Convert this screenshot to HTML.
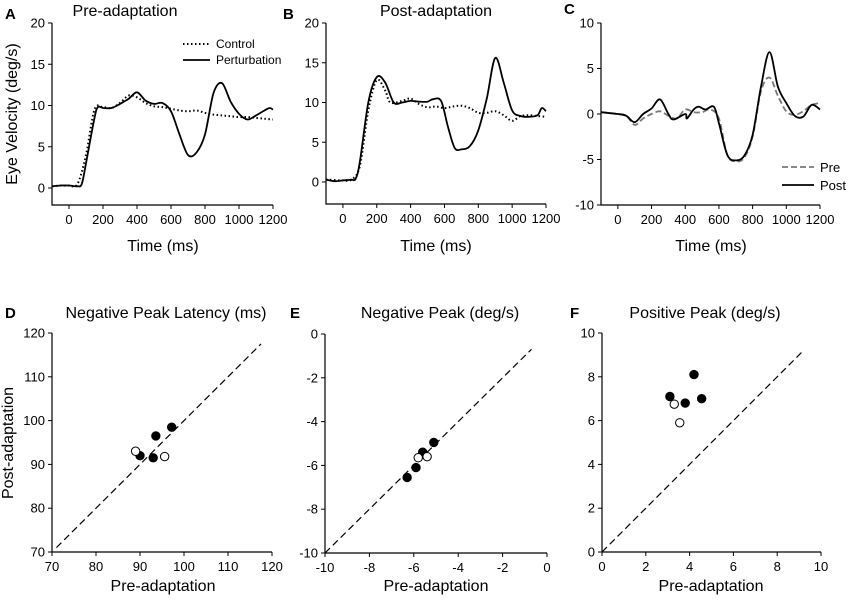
<!DOCTYPE html>
<html><head><meta charset="utf-8">
<style>
html,body{margin:0;padding:0;background:#fff;}
svg{display:block;font-family:"Liberation Sans",Arial,sans-serif;}
</style></head>
<body>
<svg id="fig" width="850" height="600" viewBox="0 0 850 600" xmlns="http://www.w3.org/2000/svg"></svg>
<script>
// ---- Data ----
const aControlT=[-100,-50,0,50,100,150,200,250,300,350,400,450,500,550,600,650,700,750,800,850,900,950,1000,1050,1100,1150,1200];
const aControlV=[0.2,0.3,0.3,0.5,4,9.5,9.8,9.7,10.3,11.2,11,10.3,9.9,9.8,9.6,9.4,9.3,9.4,9.1,8.9,8.8,8.7,8.6,8.6,8.5,8.4,8.3];
const aPertT=[-100,-50,0,50,75,100,150,170,200,250,300,350,400,450,500,550,600,650,700,750,800,850,900,950,1000,1050,1100,1150,1180,1200];
const aPertV=[0.2,0.3,0.3,0.2,0.5,3,8.5,9.8,9.7,9.7,10.2,10.8,11.6,10.6,10.2,10.3,9.3,6.5,4,4.3,6.5,11.5,12.7,10.5,9,8.3,8.8,9.4,9.7,9.5];
const bControlT=[-100,0,50,100,150,200,250,280,350,400,450,500,550,600,650,700,750,800,850,900,950,1000,1050,1100,1150,1200];
const bControlV=[0.3,0.2,0.3,2,9,12.8,11.5,10,10.2,10.5,9.8,9.4,9.5,9.3,9.5,9.6,9.3,8.7,8.7,8.9,8.4,7.7,8.3,8.4,8.3,8.2];
const bPertT=[-100,-50,0,50,75,100,150,200,250,300,350,400,450,500,530,580,620,660,700,750,800,850,900,950,1000,1050,1100,1150,1175,1200];
const bPertV=[0.3,0.1,0.2,0.3,0.4,2.5,10,13.2,12.5,10,10,10.2,10.1,10.1,10.4,10.2,7,4.3,4.1,4.5,6.5,10.5,15.6,12.5,9,8.3,8.2,8.4,9.3,8.9];
const cPreT=[-100,0,50,100,150,200,250,300,350,400,450,500,550,600,650,700,750,800,850,900,950,1000,1050,1100,1150,1200];
const cPreV=[0.2,0,-0.2,-1.2,-0.5,0,0.3,-0.2,-0.5,0.5,0.2,0.2,0.5,-0.5,-4.5,-5.2,-4.8,-2.5,2.5,4,2,0.3,-0.1,0.3,1,1.2];
const cPostT=[-100,0,50,100,150,200,250,300,330,400,410,450,480,520,570,600,650,700,750,800,850,900,950,1000,1050,1100,1150,1200];
const cPostV=[0.2,0,-0.2,-0.9,0,0.6,1.6,0,-0.6,0,-0.5,0.5,0.8,0.5,0.8,-1,-4.5,-5.1,-4.6,-2.3,3,6.8,3,1.2,-0.2,-0.3,1,0.5];
const dFilledX=[90,93,93.6,97.2], dFilledY=[92,91.5,96.5,98.5];
const dOpenX=[89,95.6], dOpenY=[93,91.8];
const eFilledX=[-6.3,-5.9,-5.6,-5.1], eFilledY=[-6.55,-6.1,-5.4,-4.95];
const eOpenX=[-5.8,-5.4], eOpenY=[-5.65,-5.6];
const fFilledX=[3.1,3.8,4.2,4.55], fFilledY=[7.1,6.8,8.1,7.0];
const fOpenX=[3.3,3.55], fOpenY=[6.75,5.9];
const timeTicks=[0,200,400,600,800,1000,1200];
const abYTicks=[0,5,10,15,20];
const cYTicks=[-10,-5,0,5,10];
const dTicks=[70,80,90,100,110,120];
const eTicks=[-10,-8,-6,-4,-2,0];
const fTicks=[0,2,4,6,8,10];

const NS="http://www.w3.org/2000/svg";
const svg=document.getElementById('fig');
function mk(tag,attrs,parent){const e=document.createElementNS(NS,tag);for(const k in attrs)e.setAttribute(k,attrs[k]);(parent||svg).appendChild(e);return e;}
function txt(s,x,y,size,anchor,name,extra){const t=mk('text',Object.assign({x:x,y:y,'font-size':size,'text-anchor':anchor||'middle',fill:'#000'},extra||{}));t.textContent=s;


return t;}
function lin(d0,d1,r0,r1){return v=>r0+(v-d0)*(r1-r0)/(d1-d0);}
function smoothPath(xs,ys){let d='M'+xs[0].toFixed(1)+','+ys[0].toFixed(1);
for(let i=0;i<xs.length-1;i++){const x0=xs[Math.max(i-1,0)],y0=ys[Math.max(i-1,0)],x1=xs[i],y1=ys[i],x2=xs[i+1],y2=ys[i+1],x3=xs[Math.min(i+2,xs.length-1)],y3=ys[Math.min(i+2,xs.length-1)];
const c1x=x1+(x2-x0)/6,c1y=y1+(y2-y0)/6,c2x=x2-(x3-x1)/6,c2y=y2-(y3-y1)/6;
d+=' C'+c1x.toFixed(1)+','+c1y.toFixed(1)+' '+c2x.toFixed(1)+','+c2y.toFixed(1)+' '+x2.toFixed(1)+','+y2.toFixed(1);}
return d;}

function axes(p,name){
  const g=mk('g',{});
  
  
  mk('path',{d:`M${p.x0},${p.yTop} V${p.y0} H${p.x1}`,stroke:'#000','stroke-width':1.2,fill:'none'},g);
  p.xt.forEach(v=>{const x=p.sx(v);mk('line',{x1:x,y1:p.y0,x2:x,y2:p.y0+4,stroke:'#000','stroke-width':1},g);
    txt(String(v),x,p.y0+19,13,'middle','x-tick-label');});
  p.yt.forEach(v=>{const y=p.sy(v);mk('line',{x1:p.x0-4,y1:y,x2:p.x0,y2:y,stroke:'#000','stroke-width':1},g);
    txt(String(v),p.x0-7,y+4.5,13,'end','y-tick-label');});
  return g;
}
function drawLine(p,T,V,name,style){
  const e=mk('path',Object.assign({d:smoothPath(T.map(p.sx),V.map(p.sy)),fill:'none'},style));
  
  
}
function drawPts(p,X,Y,filled,name){
  X.forEach((v,i)=>{const c=mk('circle',{cx:p.sx(v),cy:p.sy(Y[i]),r:4.2,fill:filled?'#000':'#fff',stroke:'#000','stroke-width':1});
  
  });
}

// Panel A
const pA={x0:52,x1:273,y0:205,yTop:23,sx:lin(-100,1200,52,273),sy:lin(0,20,188,23),xt:timeTicks,yt:abYTicks};
axes(pA,'panel-a-axes');
drawLine(pA,aControlT,aControlV,'control-line-a',{stroke:'#000','stroke-width':2,'stroke-dasharray':'1.5 2.5'});
drawLine(pA,aPertT,aPertV,'perturbation-line-a',{stroke:'#000','stroke-width':1.8});
txt('A',5,19,15,'start','panel-label-a',{'font-weight':'bold'});
txt('Pre-adaptation',125,16,16,'middle','panel-a-title');
txt('Time (ms)',163,251,16,'middle','x-axis-title-a');
txt('Eye Velocity (deg/s)',17,114,16,'middle','y-axis-title',{transform:'rotate(-90 17 114)'});
mk('line',{x1:183,y1:44,x2:210,y2:44,stroke:'#000','stroke-width':2,'stroke-dasharray':'1.5 2.5'});
txt('Control',216,48,12,'start','legend-control');
mk('line',{x1:183,y1:60,x2:210,y2:60,stroke:'#000','stroke-width':1.8});
txt('Perturbation',216,64,12,'start','legend-perturbation');

// Panel B
const pB={x0:326,x1:546,y0:204,yTop:23,sx:lin(-100,1200,326,546),sy:lin(0,20,182,23),xt:timeTicks,yt:abYTicks};
axes(pB,'panel-b-axes');
drawLine(pB,bControlT,bControlV,'control-line-b',{stroke:'#000','stroke-width':2,'stroke-dasharray':'1.5 2.5'});
drawLine(pB,bPertT,bPertV,'perturbation-line-b',{stroke:'#000','stroke-width':1.8});
txt('B',283,19,15,'start','panel-label-b',{'font-weight':'bold'});
txt('Post-adaptation',436,16,16,'middle','panel-b-title');
txt('Time (ms)',436,251,16,'middle','x-axis-title-b');

// Panel C
const pC={x0:601,x1:820,y0:205,yTop:23,sx:lin(-100,1200,601,820),sy:lin(-10,10,205,23),xt:timeTicks,yt:cYTicks};
axes(pC,'panel-c-axes');
drawLine(pC,cPreT,cPreV,'pre-line-c',{stroke:'#777','stroke-width':1.8,'stroke-dasharray':'6 3'});
drawLine(pC,cPostT,cPostV,'post-line-c',{stroke:'#000','stroke-width':1.8});
txt('C',564,14,15,'start','panel-label-c',{'font-weight':'bold'});
txt('Time (ms)',711,251,16,'middle','x-axis-title-c');
mk('line',{x1:782,y1:167,x2:814,y2:167,stroke:'#777','stroke-width':1.8,'stroke-dasharray':'6 3'});
txt('Pre',820,172,13,'start','legend-pre');
mk('line',{x1:782,y1:185,x2:814,y2:185,stroke:'#000','stroke-width':1.8});
txt('Post',820,190,13,'start','legend-post');

// Panel D
const pD={x0:52,x1:272,y0:552,yTop:333,sx:lin(70,120,52,272),sy:lin(70,120,552,333),xt:dTicks,yt:dTicks};
axes(pD,'panel-d-axes');
mk('line',{x1:pD.sx(71),y1:pD.sy(71),x2:pD.sx(117.5),y2:pD.sy(117.5),stroke:'#000','stroke-width':1.2,'stroke-dasharray':'7 4'});
drawPts(pD,dFilledX,dFilledY,true,'filled-point-d');
drawPts(pD,dOpenX,dOpenY,false,'open-point-d');
txt('D',5,318,15,'start','panel-label-d',{'font-weight':'bold'});
txt('Negative Peak Latency (ms)',166,318,16,'middle','panel-d-title');
txt('Pre-adaptation',163,591,16,'middle','x-axis-title-d');
txt('Post-adaptation',13,443,16,'middle','y-axis-title-d',{transform:'rotate(-90 13 443)'});

// Panel E
const pE={x0:325,x1:547,y0:553,yTop:334,sx:lin(-10,0,325,547),sy:lin(-10,0,553,334),xt:eTicks,yt:eTicks};
axes(pE,'panel-e-axes');
mk('line',{x1:pE.sx(-10),y1:pE.sy(-10),x2:pE.sx(-0.7),y2:pE.sy(-0.7),stroke:'#000','stroke-width':1.2,'stroke-dasharray':'7 4'});
drawPts(pE,eFilledX,eFilledY,true,'filled-point-e');
drawPts(pE,eOpenX,eOpenY,false,'open-point-e');
txt('E',290,318,15,'start','panel-label-e',{'font-weight':'bold'});
txt('Negative Peak (deg/s)',440,318,16,'middle','panel-e-title');
txt('Pre-adaptation',436,591,16,'middle','x-axis-title-e');

// Panel F
const pF={x0:602,x1:821,y0:552,yTop:333,sx:lin(0,10,602,821),sy:lin(0,10,552,333),xt:fTicks,yt:fTicks};
axes(pF,'panel-f-axes');
mk('line',{x1:pF.sx(0),y1:pF.sy(0),x2:pF.sx(9.2),y2:pF.sy(9.2),stroke:'#000','stroke-width':1.2,'stroke-dasharray':'7 4'});
drawPts(pF,fFilledX,fFilledY,true,'filled-point-f');
drawPts(pF,fOpenX,fOpenY,false,'open-point-f');
txt('F',570,318,15,'start','panel-label-f',{'font-weight':'bold'});
txt('Positive Peak (deg/s)',705,318,16,'middle','panel-f-title');
txt('Pre-adaptation',711,591,16,'middle','x-axis-title-f');
</script>
</body></html>
